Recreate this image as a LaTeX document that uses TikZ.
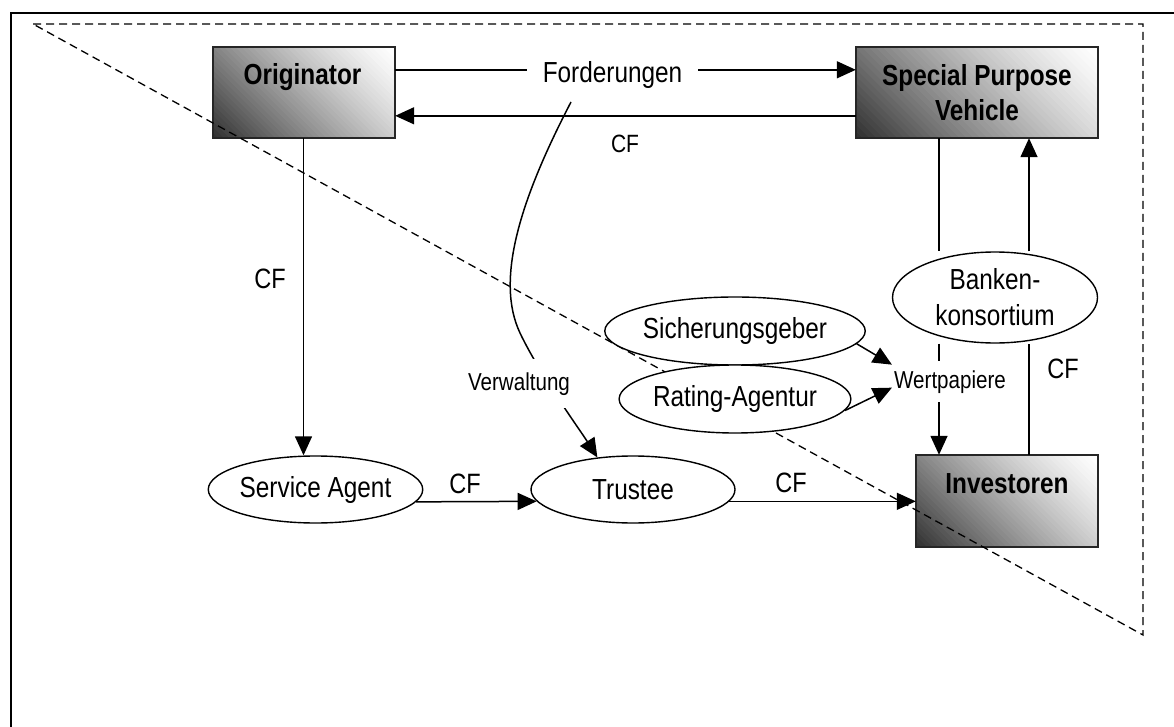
\documentclass[tikz,border=0pt]{standalone}
\usepackage{fontspec}
\setmainfont{Liberation Sans}[FakeStretch=0.84]
\usetikzlibrary{shapes.geometric,arrows.meta,calc}
\newcommand\gradfill[2]{%
  \begin{scope}
    \clip (#1.south west) rectangle (#1.north east);
    \foreach \k in {0,...,47}{%
      \pgfmathsetmacro\ca{\k*#2/48}%
      \pgfmathsetmacro\cb{(\k+1)*#2/48+0.8}%
      \pgfmathsetmacro\sh{82*(1-(\k+0.5)/48)^1.3}%
      \fill[black!\sh] ([xshift=\ca pt]#1.south west) -- ([xshift=\cb pt]#1.south west) -- ([yshift=\cb pt]#1.south west) -- ([yshift=\ca pt]#1.south west) -- cycle;
    }
  \end{scope}
  \draw[boxline] (#1.south west) rectangle (#1.north east);
}
\begin{document}
\begin{tikzpicture}[x=1pt,y=-1pt,
  box/.style={inner sep=0},
  boxline/.style={draw=black!85, line width=1.5pt},
  boxtext/.style={font=\fontsize{29}{35}\selectfont\bfseries, align=center, inner sep=0},
  ell/.style={ellipse, draw, fill=white, line width=1.4pt, inner sep=0, font=\fontsize{29}{36}\selectfont, align=center},
  lbl/.style={font=\fontsize{28}{32}\selectfont, inner sep=0pt},
  small/.style={font=\fontsize{24.5}{28}\selectfont, fill=white, inner sep=0pt},
  conn/.style={line width=1.5pt},
  arr/.style={conn, -{Triangle[length=19pt,width=17pt]}},
  tri/.style={line width=1.3pt, dash pattern=on 8pt off 5pt}
]
\useasboundingbox (0,0) rectangle (1174,727);
% frame
\draw[line width=1.4pt] (1174,13) -- (11,13) -- (11,727);

% boxes
\node[box, minimum width=182pt, minimum height=91pt] (orig) at (304,92.5) {};
\gradfill{orig}{273}
\node[box, minimum width=242pt, minimum height=91pt] (spv) at (977,92.5) {};
\gradfill{spv}{333}
\node[boxtext] (spvt) at (spv.center) {Special Purpose\\Vehicle};
\node[box, minimum width=182pt, minimum height=92pt] (inv) at (1007,501) {};
\gradfill{inv}{274}
\node[boxtext, anchor=base] (origt) at (302.5,85) {Originator};
\node[boxtext, anchor=base] (invt) at (1007,493) {Investoren};

% dashed triangle
\draw[tri] (33,24) -- (1143,24) -- (1143,635) -- cycle;

% ellipses
\node[ell, minimum width=205pt, minimum height=67pt] (sa) at (315.5,489.5) {Service Agent};
\node[ell, minimum width=204pt, minimum height=67pt] (tr) at (633,489.5) {Trustee};
\node[ell, minimum width=226pt, minimum height=68pt] (sg) at (735,331) {Sicherungsgeber};
\node[ell, minimum width=226pt, minimum height=68pt] (ra) at (735,399) {Rating-Agentur};
\node[ell, minimum width=205pt, minimum height=91pt] (bk) at (995,297.5) {Banken-\\konsortium};

% Forderungen / CF between Originator and SPV
\draw[arr] ([yshift=-23pt]orig.north east) -- ([yshift=-23pt]spv.north west);
\node[lbl, font=\fontsize{29}{32}\selectfont, fill=white, inner xsep=16pt, inner ysep=2pt, anchor=base] (ford) at (612.5,83) {Forderungen};
\draw[arr] ([yshift=-69pt]spv.north west) -- ([yshift=-69pt]orig.north east);
\node[lbl, font=\fontsize{25}{30}\selectfont, anchor=base] (cf1) at (625,153) {CF};

% Originator -> Service Agent
\draw[arr] ([xshift=-0.5pt]orig.south) -- ([xshift=-0.5pt]orig.south |- sa.north);
\node[lbl, anchor=base] (cf2) at (270,288) {CF};

% Service Agent -> Trustee -> Investoren
\draw[arr] (sa.-7) -- (tr.187);
\node[lbl, anchor=base] (cf3) at (465,493) {CF};
\draw[arr] (tr.-7) -- (tr.-7 -| inv.west);
\node[lbl, anchor=base] (cf4) at (791,492) {CF};

% Verwaltung curve
\coordinate (vs) at (571,102);
\draw[arr] (vs) .. controls (520,200) and (495,280) .. (520,333) .. controls (540,375) and (580,430) .. (tr.138);
\node[small, inner xsep=2pt, inner ysep=13pt, anchor=base] (vw) at (519,390) {Verwaltung};

% SPV <-> Bankenkonsortium <-> Investoren
\coordinate (a1) at ([xshift=-38pt]spv.south);
\coordinate (b1) at ([xshift=52pt]spv.south);
\draw[conn] (a1) -- (a1 |- bk.north);
\draw[arr] (a1 |- bk.south) -- (a1 |- inv.north);
\draw[arr] (b1 |- bk.north) -- (b1);
\draw[conn] (b1 |- inv.north) -- (b1 |- bk.south);
\node[lbl, anchor=base] (cf5) at (1063,378) {CF};

% Wertpapiere
\node[small, inner xsep=2pt, inner ysep=9pt, anchor=base] (wp) at (950,388) {Wertpapiere};
\draw[arr] (sg.-6) -- ([yshift=17pt]wp.west);
\draw[arr] (ra.-6) -- ([yshift=-6pt]wp.west);
\end{tikzpicture}
\end{document}
